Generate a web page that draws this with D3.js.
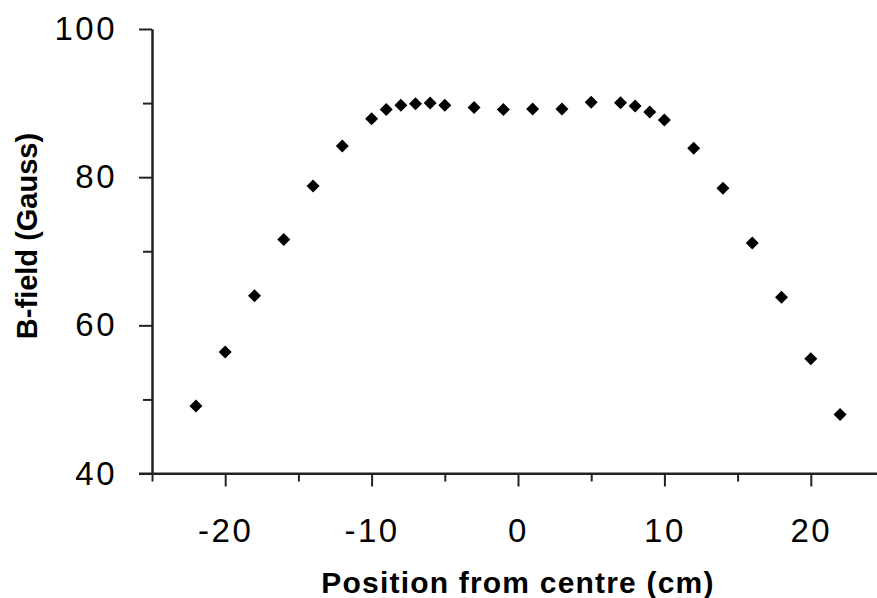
<!DOCTYPE html>
<html>
<head>
<meta charset="utf-8">
<script src="https://cdn.jsdelivr.net/npm/d3@7"></script>
<style>
  html, body { margin: 0; padding: 0; background: #fff; }
  svg { display: block; }
  text { font-family: "Liberation Sans", Arial, sans-serif; fill: #000; }
</style>
</head>
<body>
<svg id="chart" width="877" height="598"></svg>
<script>
const positions = [-22, -20, -18, -16, -14, -12, -10, -9, -8, -7, -6, -5, -3, -1, 1, 3, 5, 7, 8, 9, 10, 12, 14, 16, 18, 20, 22];
const bField = [49.1, 56.4, 64.0, 71.6, 78.8, 84.2, 87.9, 89.15, 89.7, 89.9, 90.0, 89.7, 89.4, 89.15, 89.2, 89.2, 90.1, 90.05, 89.6, 88.8, 87.7, 83.9, 78.5, 71.1, 63.8, 55.5, 47.95];
const xMajorTicks = [-20, -10, 0, 10, 20];
const xMinorTicks = [-25, -15, -5, 5, 15];
const yMajorTicks = [40, 60, 80, 100];
const yMinorTicks = [50, 70, 90];
const xTitle = "Position from centre (cm)";
const yTitle = "B-field (Gauss)";

const svg = d3.select("#chart");
const x = d3.scaleLinear().domain([-25, 25]).range([152, 884]);
const y = d3.scaleLinear().domain([40, 100]).range([473.5, 29]);

const axisColor = "#222";
const fmt = d => String(d);

// X axis
const gx = svg.append("g").attr("transform", `translate(0,${y(40)})`);
gx.call(d3.axisBottom(x).tickValues(xMajorTicks).tickSize(13).tickSizeOuter(0).tickFormat(fmt));
gx.append("g").call(d3.axisBottom(x).tickValues(xMinorTicks).tickSize(8).tickSizeOuter(0).tickFormat(""));
gx.selectAll(".domain").attr("stroke", axisColor).attr("stroke-width", 2);
gx.selectAll(".tick line").attr("stroke", axisColor).attr("stroke-width", 2);
gx.selectAll(".tick text").attr("font-size", 33).attr("dy", "0").attr("y", 68).attr("fill", "#000")
  .style("letter-spacing", "2.5px");
gx.select(".domain").attr("d", `M${x(-25) - 13},0H877`);

// Y axis
const gy = svg.append("g").attr("transform", `translate(${x(-25)},0)`);
gy.call(d3.axisLeft(y).tickValues(yMajorTicks).tickSize(13).tickSizeOuter(0).tickFormat(fmt));
gy.append("g").call(d3.axisLeft(y).tickValues(yMinorTicks).tickSize(9).tickSizeOuter(0).tickFormat(""));
gy.selectAll(".domain").attr("stroke", axisColor).attr("stroke-width", 2);
gy.selectAll(".tick line").attr("stroke", axisColor).attr("stroke-width", 2);
gy.selectAll(".tick text").attr("font-size", 33).attr("x", -35).attr("fill", "#000")
  .style("letter-spacing", "2.5px");

// Axis titles
svg.append("text")
  .attr("x", x(0))
  .attr("y", 593)
  .attr("text-anchor", "middle")
  .attr("font-size", 30)
  .attr("font-weight", "bold")
  .style("letter-spacing", "1.2px")
  .text(xTitle);

svg.append("text")
  .attr("transform", `translate(37,236) rotate(-90)`)
  .attr("text-anchor", "middle")
  .attr("font-size", 29)
  .attr("font-weight", "bold")
  .text(yTitle);

// Points
const diamond = "M0,-6.5L6.5,0L0,6.5L-6.5,0Z";
svg.append("g").selectAll("path")
  .data(positions.map((p, i) => ({ p, v: bField[i] })))
  .join("path")
  .attr("d", diamond)
  .attr("transform", d => `translate(${x(d.p)},${y(d.v)})`)
  .attr("fill", "#000");
</script>
</body>
</html>
